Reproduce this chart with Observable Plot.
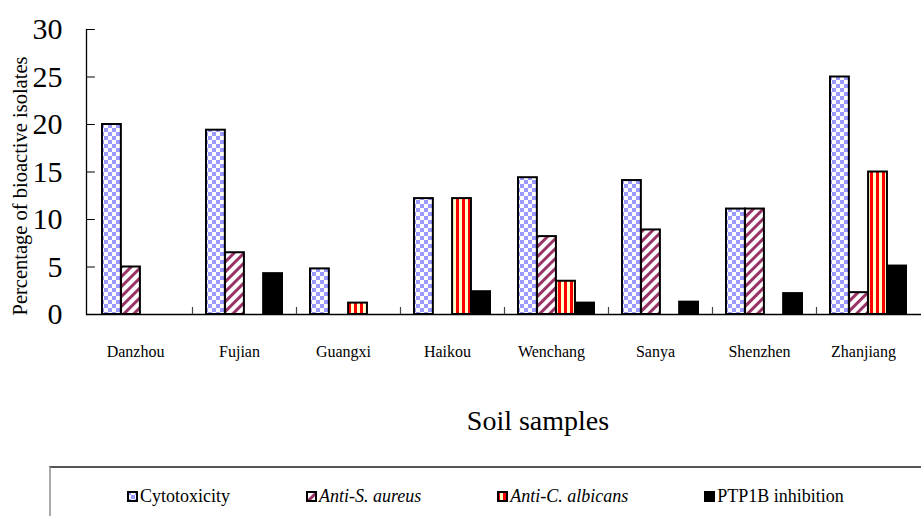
<!DOCTYPE html>
<html><head><meta charset="utf-8">
<script src="https://cdn.jsdelivr.net/npm/d3@7"></script>
<script src="https://cdn.jsdelivr.net/npm/@observablehq/plot@0.6"></script>
<style>
body{margin:0;background:#fff;font-family:"Liberation Serif","Times New Roman",Times,serif;color:#000;}
#wrap{width:921px;height:516px;position:relative;overflow:hidden;background:#fff}
#legend{position:absolute;left:49px;top:466px;width:900px;height:58px;border-top:2px solid #555;border-left:2px solid #aaa;display:flex;align-items:center;gap:76px;padding-left:76px;box-sizing:border-box;font-size:18px;font-family:"Liberation Serif","Times New Roman",Times,serif;}
.item{display:flex;align-items:center;white-space:nowrap}
.item svg{margin-right:2px}
.it{font-style:italic}
</style>
</head><body>
<svg width="0" height="0" style="position:absolute">
<defs>
<pattern id="pCheck" patternUnits="userSpaceOnUse" width="8" height="8">
<rect width="8" height="8" fill="#fff"/>
<rect x="0" y="0" width="4" height="4" fill="#9999ff"/>
<rect x="4" y="4" width="4" height="4" fill="#9999ff"/>
</pattern>
<pattern id="pDiag" patternUnits="userSpaceOnUse" width="7" height="7" patternTransform="rotate(45)">
<rect width="7" height="7" fill="#fff"/>
<rect x="0" y="0" width="3" height="7" fill="#993366"/>
</pattern>
<pattern id="pVert" patternUnits="userSpaceOnUse" width="6" height="6">
<rect width="6" height="6" fill="#ffffcc"/>
<rect x="0" y="0" width="3" height="6" fill="#ff0000"/>
</pattern>
</defs>
</svg>
<div id="wrap"><div id="chart"></div><div id="legend"></div></div>
<script>
const sites = ["Danzhou","Fujian","Guangxi","Haikou","Wenchang","Sanya","Shenzhen","Zhanjiang"];
const seriesNames = ["Cytotoxicity","Anti-S. aureus","Anti-C. albicans","PTP1B inhibition"];
const cytotoxicity = [20, 19.4, 4.8, 12.2, 14.4, 14.1, 11.1, 25];
const antiSaureus = [5, 6.5, 0, 0, 8.2, 8.9, 11.1, 2.3];
const antiCalbicans = [0, 0, 1.2, 12.2, 3.5, 0, 0, 15];
const ptp1b = [0, 4.3, 0, 2.4, 1.2, 1.3, 2.2, 5.1];
const yTicks = [0, 5, 10, 15, 20, 25, 30];
const xTitle = "Soil samples";
const yTitle = "Percentage of bioactive isolates";

const FONT = "Liberation Serif, Times New Roman, Times, serif";
const fills = ["url(#pCheck)", "url(#pDiag)", "url(#pVert)", "#000"];
const seriesVals = [cytotoxicity, antiSaureus, antiCalbicans, ptp1b];

const W = 921, H = 445, ML = 86, MR = 0, MT = 29, MB = 131;
const padIn = 0.27, padOut = padIn / 2;
const step = (W - ML - MR) / (sites.length - padIn + 2 * padOut);
const bw = step * (1 - padIn);
const slot = bw / 4;
const tickShape = {draw(ctx, l) { ctx.moveTo(0, 0); ctx.lineTo(0, -l); }};

const barMarks = seriesVals.map((vals, i) =>
  Plot.barY(
    sites.map((s, j) => ({site: s, value: vals[j], series: seriesNames[i]})).filter(d => d.value > 0),
    {x: "site", y: "value", fill: fills[i], stroke: "#000", strokeWidth: 2,
     insetLeft: i * slot, insetRight: (3 - i) * slot}
  )
);

const chart = Plot.plot({
  width: W, height: H,
  marginLeft: ML, marginRight: MR, marginTop: MT, marginBottom: MB,
  style: {fontFamily: FONT, color: "#000", background: "#fff", overflow: "visible"},
  x: {domain: sites, paddingInner: padIn, paddingOuter: padOut, axis: null},
  y: {domain: [0, 30], axis: null},
  marks: [
    ...barMarks,
    Plot.ruleY([0], {stroke: "#000", strokeWidth: 1.5}),
    Plot.vector([0], {y: d => d, frameAnchor: "left", length: H - MT - MB, anchor: "start", shape: tickShape, stroke: "#000", strokeWidth: 1.3}),
    Plot.axisY(yTicks, {anchor: "left", tickSize: 0, tickPadding: 24, fontSize: 30, fontFamily: FONT, label: null}),
    Plot.vector(yTicks.slice(1), {y: d => d, frameAnchor: "left", length: 8, rotate: 90, anchor: "start", shape: tickShape, stroke: "#000", strokeWidth: 1}),
    Plot.axisX({anchor: "bottom", tickSize: 0, tickPadding: 31, dx: -5, fontSize: 16, fontFamily: FONT, label: null}),
    Plot.text([xTitle], {frameAnchor: "bottom", dx: 34, dy: 115, fontSize: 28, fontFamily: FONT, fill: "#000"}),
    Plot.text([yTitle], {frameAnchor: "left", textAnchor: "middle", rotate: -90, dx: -66, dy: 14, fontSize: 20.5, fontFamily: FONT, fill: "#000"})
  ]
});
// boundary ticks between groups, placed from Plot's own x scale
const xs = chart.scale("x");
let y0 = NaN;
try { y0 = chart.scale("y").apply(0); } catch (e) {}
if (!Number.isFinite(y0)) y0 = H - MB;
d3.select(chart).append("g").attr("stroke", "#444").attr("stroke-width", 1.2)
  .selectAll("line").data(sites.slice(1)).join("line")
  .attr("x1", d => Math.round(xs.apply(d) - xs.step * xs.paddingInner / 2) + 0.5)
  .attr("x2", d => Math.round(xs.apply(d) - xs.step * xs.paddingInner / 2) + 0.5)
  .attr("y1", y0).attr("y2", y0 - 7);
document.getElementById("chart").appendChild(chart);

const legend = document.getElementById("legend");
seriesNames.forEach((name, i) => {
  const it = document.createElement("div");
  it.className = "item";
  it.innerHTML = `<svg width="11" height="11"><rect x="1" y="1" width="9" height="9" fill="${fills[i]}" stroke="#000" stroke-width="2"/></svg>` +
    (i === 1 || i === 2 ? `<span class="it">${name}</span>` : `<span>${name}</span>`);
  legend.appendChild(it);
});
</script>
</body></html>
